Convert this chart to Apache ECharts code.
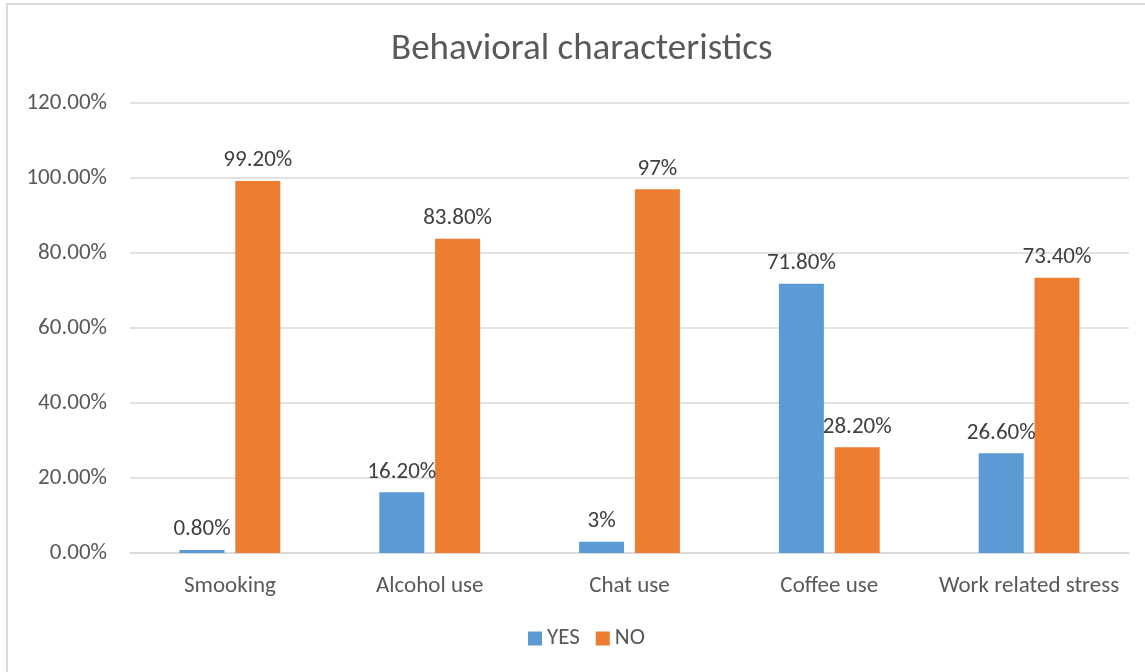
<!DOCTYPE html>
<html>
<head>
<meta charset="utf-8">
<script src="https://cdn.jsdelivr.net/npm/echarts@6/dist/echarts.min.js"></script>
<style>
html,body{margin:0;padding:0;background:#fff;}
#chart{width:1145px;height:672px;}
</style>
</head>
<body>
<div id="chart"></div>
<script>
const categories = ['Smooking', 'Alcohol use', 'Chat use', 'Coffee use', 'Work related stress'];
const yesValues = [0.8, 16.2, 3, 71.8, 26.6];
const noValues = [99.2, 83.8, 97, 28.2, 73.4];
const yesLabels = ['0.80%', '16.20%', '3%', '71.80%', '26.60%'];
const noLabels = ['99.20%', '83.80%', '97%', '28.20%', '73.40%'];
const yTicks = [0, 20, 40, 60, 80, 100, 120];

const FONT = 'Carlito, Lato, "Open Sans", sans-serif';
const FS = 23;
const chart = echarts.init(document.getElementById('chart'), null, {renderer: 'canvas'});
chart.setOption({
  backgroundColor: '#ffffff',
  animation: false,
  textStyle: {fontFamily: FONT},
  graphic: [{
    type: 'rect',
    shape: {x: 7, y: 4, width: 1200, height: 720},
    style: {fill: 'none', stroke: '#d9d9d9', lineWidth: 2},
    silent: true, z: -1
  }],
  title: {
    text: 'Behavioral characteristics',
    left: 391,
    top: 31,
    padding: 0,
    textStyle: {fontFamily: FONT, fontSize: 37, fontWeight: 'normal', color: '#595959'}
  },
  legend: {
    bottom: 17,
    left: 523,
    itemWidth: 14,
    itemHeight: 14,
    itemGap: 16,
    icon: 'rect',
    textStyle: {fontFamily: FONT, fontSize: FS, color: '#595959'},
    data: ['YES', 'NO']
  },
  grid: {left: 130, right: 16, top: 103, bottom: 119, containLabel: false},
  xAxis: {
    type: 'category',
    data: categories,
    axisLine: {show: true, lineStyle: {color: '#d9d9d9', width: 1.5}},
    axisTick: {show: false},
    axisLabel: {interval: 0, fontFamily: FONT, fontSize: FS, color: '#595959', margin: 22}
  },
  yAxis: {
    type: 'value',
    min: yTicks[0],
    max: yTicks[yTicks.length - 1],
    interval: 20,
    axisLine: {show: false},
    axisTick: {show: false},
    splitLine: {lineStyle: {color: '#d9d9d9', width: 1.5}},
    axisLabel: {fontFamily: FONT, fontSize: FS, color: '#595959', margin: 23,
      formatter: v => v.toFixed(2) + '%'}
  },
  series: [
    {
      name: 'YES', type: 'bar', data: yesValues, barWidth: 45, barGap: '24%',
      itemStyle: {color: '#5B9BD5'},
      label: {show: true, position: 'top', distance: 9, fontFamily: FONT, fontSize: FS, color: '#404040',
        formatter: p => yesLabels[p.dataIndex]}
    },
    {
      name: 'NO', type: 'bar', data: noValues, barWidth: 45,
      itemStyle: {color: '#ED7D31'},
      label: {show: true, position: 'top', distance: 9, fontFamily: FONT, fontSize: FS, color: '#404040',
        formatter: p => noLabels[p.dataIndex]}
    }
  ]
});
</script>
</body>
</html>
